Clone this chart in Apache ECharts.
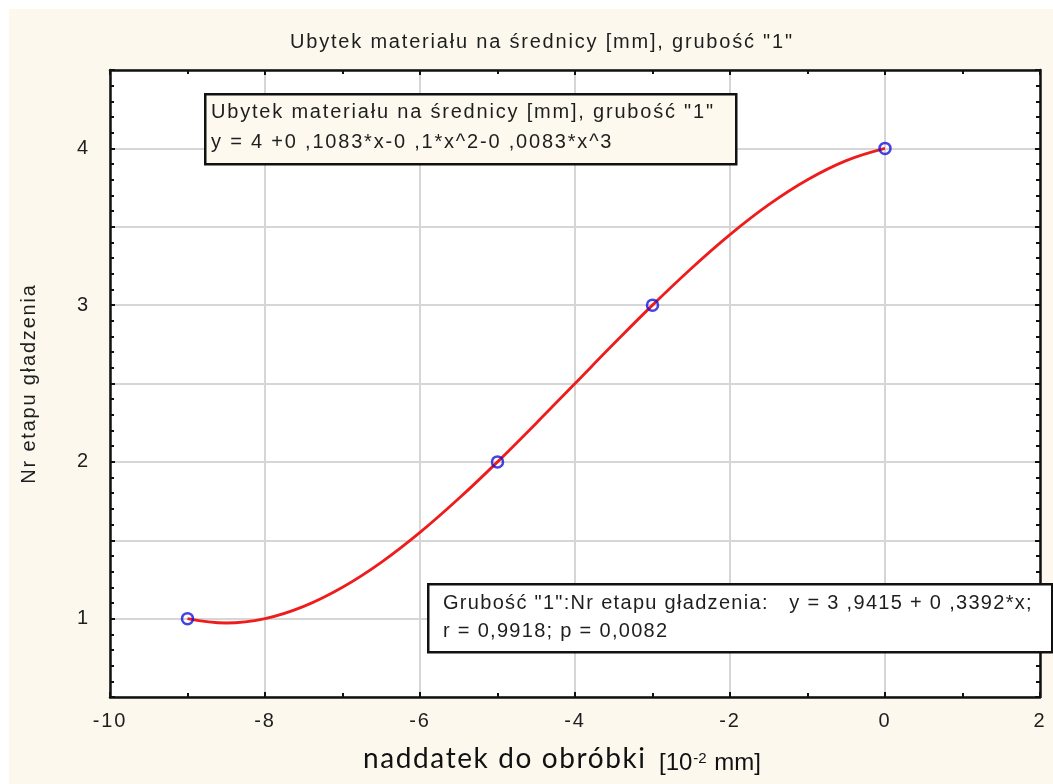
<!DOCTYPE html>
<html>
<head>
<meta charset="utf-8">
<script src="https://cdn.jsdelivr.net/npm/echarts@6/dist/echarts.min.js"></script>
<style>
  html, body { margin: 0; padding: 0; background: #ffffff; }
  #wrap { position: relative; width: 1053px; height: 784px; background: #ffffff; }
  #paper { position: absolute; left: 9px; top: 9px; right: 0; bottom: 0; background: #fcf8ee; }
  #chart { position: absolute; left: 0; top: 0; width: 1053px; height: 784px; }
</style>
</head>
<body>
<div id="wrap"><div id="paper"></div><div id="chart"></div></div>
<script>
// Measured points: allowance (x) vs. smoothing stage number (y)
const pointX = [-9, -5, -3, 0];
const pointY = [1, 2, 3, 4];

// Fitted cubic curve, sampled along x
const curveX = [-9, -8.5, -8, -7.5, -7, -6.5, -6, -5.5, -5, -4.5, -4, -3.5, -3, -2.5, -2, -1.5, -1, -0.5, 0];
const curveY = [1.000, 0.972, 1.000, 1.078, 1.200, 1.359, 1.550, 1.766, 2.000, 2.247, 2.500, 2.753, 3.000, 3.234, 3.450, 3.641, 3.800, 3.922, 4.000];

// Axis ranges and tick labels
const xTicks = [-10, -8, -6, -4, -2, 0, 2];
const yTicks = [1, 2, 3, 4];

const titleText = 'Ubytek materiału na średnicy [mm], grubość "1"';
const fitLine1 = 'Ubytek materiału na średnicy [mm], grubość "1"';
const fitLine2 = 'y = 4 +0 ,1083*x-0 ,1*x^2-0 ,0083*x^3';
const regLine1 = 'Grubość "1":Nr etapu gładzenia:   y = 3 ,9415 + 0 ,3392*x;';
const regLine2 = 'r = 0,9918; p = 0,0082';

// Tracked sans for chart texts; letter spacing is applied per font family
const sans = '"Liberation Sans", sans-serif';
const sansTight = 'Arimo, Arial, sans-serif';
const spacingByFamily = [['Liberation Sans', '1.8px'], ['Arimo', '1.3px'], ['Lato', '1.6px']];
const baseFillText = CanvasRenderingContext2D.prototype.fillText;
CanvasRenderingContext2D.prototype.fillText = function (t, x, y, w) {
  if ('letterSpacing' in this) {
    let sp = '0px';
    for (const [fam, v] of spacingByFamily) {
      if (this.font.indexOf(fam) >= 0) { sp = v; break; }
    }
    this.letterSpacing = sp;
  }
  return w === undefined ? baseFillText.call(this, t, x, y) : baseFillText.call(this, t, x, y, w);
};

const chart = echarts.init(document.getElementById('chart'), null, { renderer: 'canvas' });

const tickStyle = { show: true, inside: true, length: 5, lineStyle: { color: '#111', width: 2 } };
const minorStyle = { show: true, length: 4, lineStyle: { color: '#111', width: 2 } };
const txt = '#1e1e1e';

chart.setOption({
  backgroundColor: 'transparent',
  animation: false,
  title: {
    text: titleText,
    left: 285, top: 27,
    textStyle: { fontFamily: sans, fontSize: 20, fontWeight: 'normal', color: txt }
  },
  grid: {
    left: 110, right: 13, top: 70, bottom: 87,
    show: true, backgroundColor: '#ffffff', borderWidth: 0
  },
  xAxis: [
    {
      type: 'value', min: xTicks[0], max: xTicks[xTicks.length - 1], interval: 2,
      axisLine: { show: true, onZero: false, lineStyle: { color: '#111', width: 2.5 } },
      axisTick: tickStyle,
      minorTick: Object.assign({ splitNumber: 2 }, minorStyle),
      axisLabel: { margin: 14, fontFamily: sans, fontSize: 20, color: txt },
      splitLine: { show: true, lineStyle: { color: '#d6d6d6', width: 2 } }
    },
    {
      type: 'value', position: 'top', min: xTicks[0], max: xTicks[xTicks.length - 1], interval: 2,
      axisLine: { show: true, onZero: false, lineStyle: { color: '#111', width: 2.5 } },
      axisTick: tickStyle,
      minorTick: Object.assign({ splitNumber: 2 }, minorStyle),
      axisLabel: { show: false },
      splitLine: { show: false }
    }
  ],
  yAxis: [
    {
      type: 'value', min: 0.5, max: 4.5, interval: 0.5,
      name: 'Nr etapu gładzenia', nameLocation: 'middle', nameGap: 71, nameRotate: 90,
      nameTextStyle: { fontFamily: sans, fontSize: 20, color: txt },
      axisLine: { show: true, onZero: false, lineStyle: { color: '#111', width: 2.5 } },
      axisTick: tickStyle,
      minorTick: Object.assign({ splitNumber: 5 }, minorStyle),
      axisLabel: {
        margin: 20, fontFamily: sans, fontSize: 20, color: txt,
        formatter: v => (yTicks.indexOf(v) >= 0 ? String(v) : '')
      },
      splitLine: { show: true, lineStyle: { color: '#d6d6d6', width: 2 } }
    },
    {
      type: 'value', position: 'right', min: 0.5, max: 4.5, interval: 0.5,
      axisLine: { show: true, onZero: false, lineStyle: { color: '#111', width: 2.5 } },
      axisTick: tickStyle,
      minorTick: Object.assign({ splitNumber: 5 }, minorStyle),
      axisLabel: { show: false },
      splitLine: { show: false }
    }
  ],
  series: [
    {
      name: 'fit', type: 'line', smooth: 0.4, showSymbol: false, z: 3,
      data: curveX.map((x, i) => [x, curveY[i]]),
      lineStyle: { color: '#ee1c1c', width: 2.8 }
    },
    {
      name: 'pomiar', type: 'scatter', z: 4,
      data: pointX.map((x, i) => [x, pointY[i]]),
      symbol: 'circle', symbolSize: 11,
      itemStyle: { color: 'rgba(255,255,255,0)', borderColor: '#1515dd', borderWidth: 2.5 }
    }
  ],
  graphic: [
    // equation box of the fitted curve
    { type: 'rect', left: 204, top: 93, z: 100,
      shape: { width: 531, height: 70 },
      style: { fill: '#fdf9ee', stroke: '#111', lineWidth: 2.5 } },
    { type: 'text', left: 211, top: 102, z: 101,
      style: { text: fitLine1, font: '20px ' + sans, fill: txt } },
    { type: 'text', left: 211, top: 132, z: 101,
      style: { text: fitLine2, font: '20px ' + sans, fill: txt } },

    // linear regression box
    { type: 'rect', left: 427, top: 583, z: 100,
      shape: { width: 624, height: 68 },
      style: { fill: '#ffffff', stroke: '#111', lineWidth: 2.5 } },
    { type: 'text', left: 443, top: 593, z: 101,
      style: { text: regLine1, font: '20px ' + sansTight, fill: txt } },
    { type: 'text', left: 443, top: 621, z: 101,
      style: { text: regLine2, font: '20px ' + sansTight, fill: txt } },

    // x axis title
    { type: 'text', left: 363, top: 745, z: 101,
      style: { text: 'naddatek do obróbki', font: '28px Lato, sans-serif', fill: '#111' } },
    { type: 'text', left: 659, top: 751, z: 101,
      style: {
        text: '{b|[10}{s|-2}{b| mm]}',
        rich: {
          b: { fontFamily: 'Arial', fontSize: 24, fill: '#111', color: '#111' },
          s: { fontFamily: 'Arial', fontSize: 15, fill: '#111', color: '#111', verticalAlign: 'top', padding: [0, 1, 10, 1] }
        }
      } }
  ]
});
</script>
</body>
</html>
